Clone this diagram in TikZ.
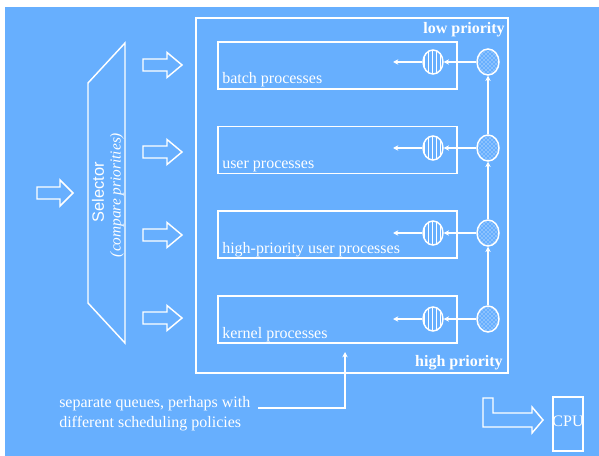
\documentclass[tikz,border=0pt]{standalone}
\usepackage{fontspec}
\setmainfont{Liberation Serif}
\newfontfamily\sansf{Liberation Sans}
\usetikzlibrary{patterns,arrows.meta,shapes.geometric}
\definecolor{bgblue}{RGB}{103,175,254}
\begin{document}
\begin{tikzpicture}[x=0.75pt,y=-0.75pt,line join=miter,
  wl/.style={draw=white,line width=1.1pt},
  queue/.style={wl,line width=1.2pt,minimum width=179.25pt,minimum height=35.25pt,inner sep=0pt},
  lbl/.style={text=white,font=\fontsize{12}{14}\selectfont,inner sep=0pt},
  blbl/.style={lbl,font=\fontsize{12}{14}\selectfont\bfseries},
  inner/.style={ellipse,wl,minimum width=15pt,minimum height=18pt,inner sep=0pt,pattern=vertical lines,pattern color=white},
  outer/.style={ellipse,wl,minimum width=16.5pt,minimum height=19.5pt,inner sep=0pt,pattern=crosshatch dots,pattern color=white},
  conn/.style={wl,line width=1pt,-{Stealth[length=4pt,width=4pt]}},
  pics/blockarrow/.style={code={\draw[wl] (0,-6) -- (24,-6) -- (24,-12.5) -- (39,0) -- (24,12.5) -- (24,6) -- (0,6) -- cycle;}}
]
\useasboundingbox (0,0) rectangle (599,456);
\fill[white] (0,0) rectangle (599,456);
\fill[bgblue] (5,7) rectangle (599,456);

% selector
\draw[wl] (88,83) -- (125,43) -- (125,343) -- (88,303) -- cycle;
\node[lbl,rotate=90,font=\sansf\fontsize{12.3}{14}\selectfont] (sel) at (98,192) {Selector};
\node[lbl,rotate=90,font=\fontsize{11.5}{13}\selectfont\itshape] (cmp) at (117,195) {(compare priorities)};

% block arrows
\draw[wl] (37,187) -- (60,187) -- (60,180) -- (73,193) -- (60,206) -- (60,199) -- (37,199) -- cycle;
\pic at (143,65) {blockarrow};
\pic at (143,152) {blockarrow};
\pic at (143,235) {blockarrow};
\pic at (143,318) {blockarrow};

% outer box
\node[wl,line width=1.3pt,minimum width=234pt,minimum height=266.25pt,inner sep=0pt] (big) at (352,195.5) {};
\node[blbl,anchor=base east] (low) at (505,34) {low priority};
\node[blbl,anchor=base east] (high) at (503,366) {high priority};

% queues
\node[queue] (q1) at (337.5,65.5) {};
\node[queue] (q2) at (337.5,150) {};
\node[queue] (q3) at (337.5,234.5) {};
\node[queue] (q4) at (337.5,319.5) {};
\node[lbl,anchor=base west] (l1) at (222,84) {batch processes};
\node[lbl,anchor=base west] (l2) at (222,168.5) {user processes};
\node[lbl,anchor=base west] (l3) at (222,253) {high-priority user processes};
\node[lbl,anchor=base west] (l4) at (222,338) {kernel processes};

% circles
\foreach \i/\y in {1/62,2/148,3/233,4/319}{
  \node[inner] (i\i) at (433,\y) {};
  \node[outer] (o\i) at (488,\y) {};
  \coordinate (t\i) at (393,\y);
  \draw[conn] (i\i.west) -- (t\i);
  \draw[conn] (o\i.west) -- (i\i.east);
}
\draw[conn] (o4.north) -- (o3.south);
\draw[conn] (o3.north) -- (o2.south);
\draw[conn] (o2.north) -- (o1.south);

% callout
\node[lbl,anchor=base west] (note) at (59,407) {separate queues, perhaps with};
\node[lbl,anchor=base west] (note2) at (59,427) {different scheduling policies};
\coordinate (c1) at (258,408);
\coordinate (c2) at (345,408);
\coordinate (c3) at (345,352);
\draw[conn] (c1) -- (c2) -- (c3);

% CPU
\node[wl,minimum width=22.5pt,minimum height=40.5pt,inner sep=0pt] (cpu) at (568,424) {};
\node[lbl] (cput) at (568,421) {CPU};
\draw[wl] (483,398) -- (493,398) -- (493,413) -- (532,413) -- (532,407) -- (543,420) -- (532,433) -- (532,427) -- (483,427) -- cycle;
\end{tikzpicture}
\end{document}
